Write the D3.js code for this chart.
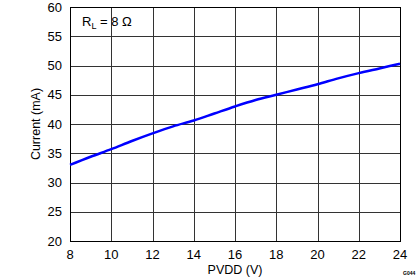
<!DOCTYPE html>
<html>
<head>
<meta charset="utf-8">
<script src="https://cdn.jsdelivr.net/npm/d3@7"></script>
<style>
  body { margin: 0; background: #fff; }
  text { font-family: "Liberation Sans", Arial, sans-serif; fill: #000; }
</style>
</head>
<body>
<svg id="chart" width="419" height="279"></svg>
<script>
var pvdd = [8, 9, 10, 11, 12, 13, 14, 15, 16, 17, 18, 19, 20, 21, 22, 23, 24];
var current = [33.0, 34.4, 35.7, 37.1, 38.4, 39.6, 40.6, 41.8, 43.0, 44.1, 45.0, 45.9, 46.8, 47.8, 48.7, 49.5, 50.3];
var xTicks = [8, 10, 12, 14, 16, 18, 20, 22, 24];
var yTicks = [20, 25, 30, 35, 40, 45, 50, 55, 60];

var svg = d3.select("#chart");
// plot box (note: "top" is reserved on window, so use pTop)
var pLeft = 70, pRight = 400, pTop = 7, pBottom = 241;

var x = d3.scaleLinear().domain([8, 24]).range([pLeft, pRight]);
var y = d3.scaleLinear().domain([20, 60]).range([pBottom, pTop]);

// grid
var g = svg.append("g");
g.selectAll(".vg").data(xTicks).enter().append("line")
  .attr("x1", function(d) { return Math.round(x(d)) + 0.5; })
  .attr("x2", function(d) { return Math.round(x(d)) + 0.5; })
  .attr("y1", pTop).attr("y2", pBottom)
  .attr("stroke", "#333").attr("stroke-width", 1);
g.selectAll(".hg").data(yTicks).enter().append("line")
  .attr("y1", function(d) { return Math.round(y(d)) + 0.5; })
  .attr("y2", function(d) { return Math.round(y(d)) + 0.5; })
  .attr("x1", pLeft).attr("x2", pRight)
  .attr("stroke", "#333").attr("stroke-width", 1);

// frame
svg.append("rect")
  .attr("x", pLeft + 0.5).attr("y", pTop + 0.5)
  .attr("width", pRight - pLeft).attr("height", pBottom - pTop)
  .attr("fill", "none").attr("stroke", "#000").attr("stroke-width", 1);

// tick labels
svg.selectAll(".xt").data(xTicks).enter().append("text")
  .attr("x", function(d) { return x(d); })
  .attr("y", 259)
  .attr("text-anchor", "middle")
  .attr("font-size", 13)
  .text(function(d) { return d; });
svg.selectAll(".yt").data(yTicks).enter().append("text")
  .attr("x", 62)
  .attr("y", function(d) { return y(d) + 4.5; })
  .attr("text-anchor", "end")
  .attr("font-size", 13)
  .text(function(d) { return d; });

// axis titles
svg.append("text")
  .attr("x", (pLeft + pRight) / 2).attr("y", 274)
  .attr("text-anchor", "middle").attr("font-size", 12.5)
  .text("PVDD (V)");
svg.append("text")
  .attr("transform", "translate(40," + (pTop + pBottom) / 2 + ") rotate(-90)")
  .attr("text-anchor", "middle").attr("font-size", 12.5)
  .text("Current (mA)");

// data line
var line = d3.line()
  .x(function(d, i) { return x(pvdd[i]); })
  .y(function(d) { return y(d); })
  .curve(d3.curveMonotoneX);
svg.append("path")
  .datum(current)
  .attr("d", line)
  .attr("fill", "none")
  .attr("stroke", "#0000ff")
  .attr("stroke-width", 2.5);

// label
var lab = svg.append("text").attr("x", 82).attr("y", 26).attr("font-size", 13);
lab.append("tspan").text("R");
lab.append("tspan").attr("font-size", 9).attr("dy", 3).text("L");
lab.append("tspan").attr("dy", -3).text(" = 8 \u03A9");

svg.append("text")
  .attr("x", 403).attr("y", 275)
  .attr("font-size", 5).attr("font-weight", "bold")
  .text("G044");
</script>
</body>
</html>
